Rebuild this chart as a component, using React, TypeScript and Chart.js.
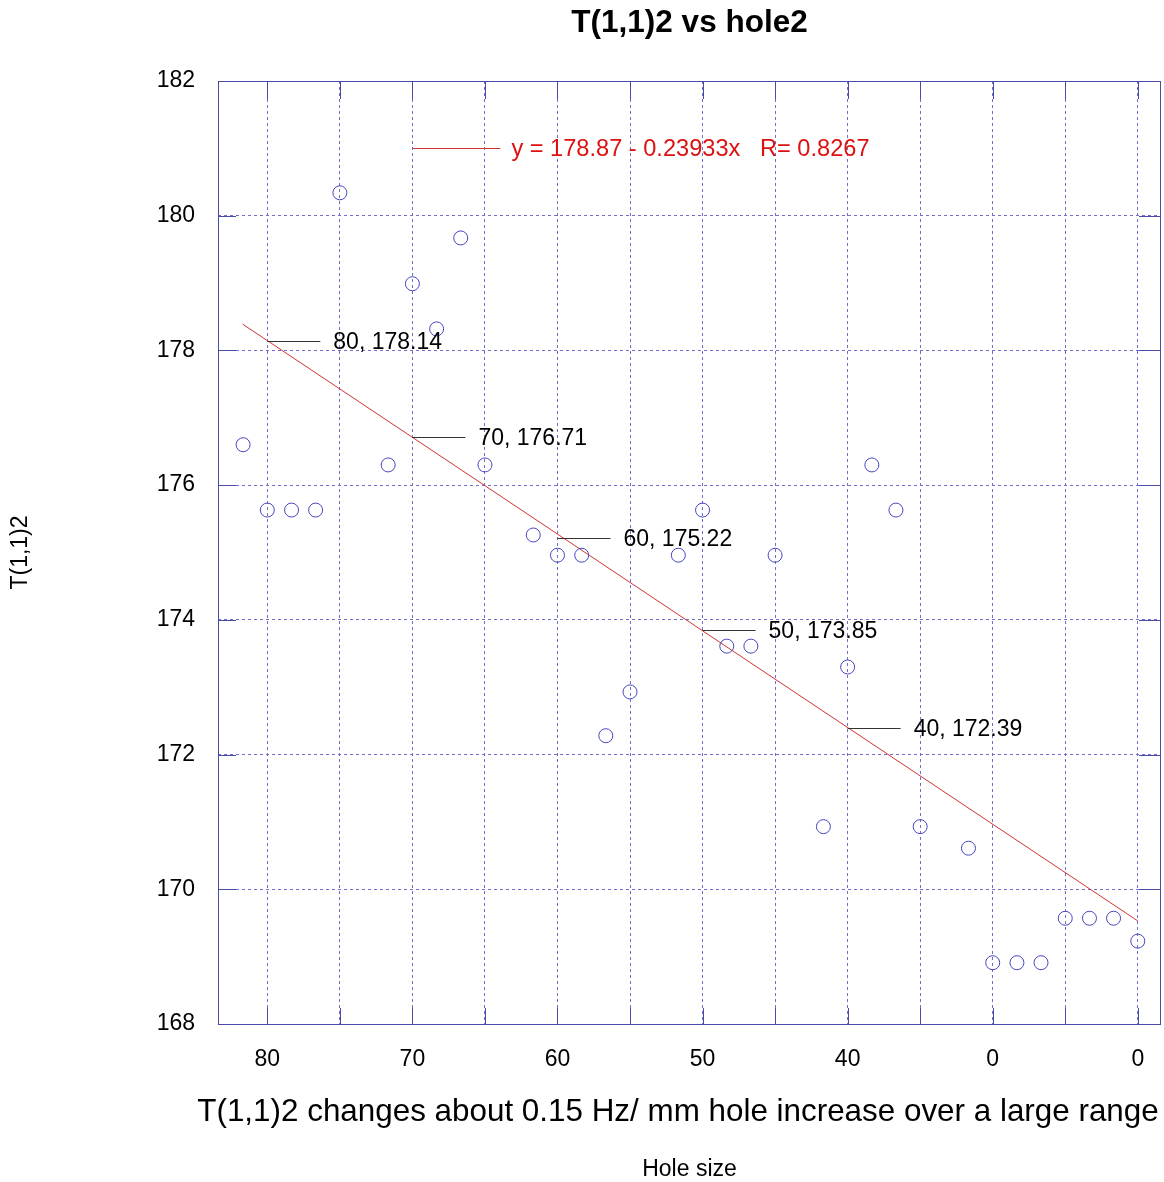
import React, { useEffect, useRef } from "react";
import { Chart, registerables } from "chart.js";

Chart.register(...registerables);

// ---- data ----
const holeSize = [
  81.67, 80, 78.33, 76.67, 75, 71.67, 70, 68.33, 66.67, 65, 61.67, 60, 58.33,
  56.67, 55, 51.67, 50, 48.33, 46.67, 45, 41.67, 40, 38.33, 36.67, 35, 31.67,
  30, 28.33, 26.67, 25, 23.33, 21.67, 20,
];
const t112 = [
  176.6, 175.63, 175.63, 175.63, 180.34, 176.3, 178.99, 178.32, 179.67, 176.3,
  175.26, 174.96, 174.96, 172.28, 172.93, 174.96, 175.63, 173.61, 173.61,
  174.96, 170.93, 173.3, 176.3, 175.63, 170.93, 170.61, 168.91, 168.91, 168.91,
  169.57, 169.57, 169.57, 169.23,
];

// regression line (end points)
const fitX = [81.7, 20];
const fitY = [178.39, 169.53];

// annotated points on the regression line
const annX = [80, 70, 60, 50, 40];
const annY = [178.14, 176.71, 175.22, 173.85, 172.39];

// x grid values, labelled tick values and the labels shown for them
const xGridValues = [20, 25, 30, 35, 40, 45, 50, 55, 60, 65, 70, 75, 80];
const xTickValues = [80, 70, 60, 50, 40, 30, 20];
const xTickLabels = ["80", "70", "60", "50", "40", "0", "0"];
const yTickValues = [168, 170, 172, 174, 176, 178, 180, 182];

const fitLabel = "y = 178.87 - 0.23933x   R= 0.8267";
const fitLabelAnchor = { x: 70, y: 181 };

const titleText = "T(1,1)2 vs hole2";
const yTitle = "T(1,1)2";
const xTitle1 = "T(1,1)2 changes about 0.15 Hz/ mm hole increase over a large range";
const xTitle2 = "Hole size";

const FONT = "'Liberation Sans', Arial, Helvetica, sans-serif";
const AXIS_COLOR = "#4a4aaa";
const GRID_COLOR = "#7070cc";
const POINT_COLOR = "#4646c0";
const FIT_COLOR = "#cc3333";
const FIT_TEXT_COLOR = "#dd1111";

const decorPlugin = {
  id: "decor",
  afterDraw(chart: any) {
    const { ctx, chartArea, scales } = chart;
    const xs = scales.x;
    const ys = scales.y;
    const { left, right, top, bottom } = chartArea;
    ctx.save();

    // box
    ctx.strokeStyle = AXIS_COLOR;
    ctx.lineWidth = 1;
    ctx.setLineDash([]);
    ctx.strokeRect(Math.round(left) + 0.5, Math.round(top) + 0.5, Math.round(right - left) - 1, Math.round(bottom - top));

    // inside tick marks
    ctx.beginPath();
    xs.ticks.forEach((t: any) => {
      const px = Math.round(xs.getPixelForValue(t.value)) + 0.5;
      ctx.moveTo(px, bottom);
      ctx.lineTo(px, bottom - 16);
      ctx.moveTo(px, top);
      ctx.lineTo(px, top + 18);
    });
    ys.ticks.forEach((t: any) => {
      const py = Math.round(ys.getPixelForValue(t.value)) + 0.5;
      ctx.moveTo(left, py);
      ctx.lineTo(left + 18, py);
      ctx.moveTo(right, py);
      ctx.lineTo(right - 22, py);
    });
    ctx.stroke();

    // annotations on the fit line
    ctx.font = `23px ${FONT}`;
    ctx.textBaseline = "middle";
    ctx.textAlign = "left";
    annX.forEach((v, i) => {
      const px = xs.getPixelForValue(v);
      const py = Math.round(ys.getPixelForValue(annY[i])) + 0.5;
      ctx.strokeStyle = "#333333";
      ctx.beginPath();
      ctx.moveTo(px, py);
      ctx.lineTo(px + 53, py);
      ctx.stroke();
      ctx.fillStyle = "#000000";
      ctx.fillText(`${v}, ${annY[i].toFixed(2)}`, px + 66, py + 1);
    });

    // fit legend
    const lx = xs.getPixelForValue(fitLabelAnchor.x);
    const ly = Math.round(ys.getPixelForValue(fitLabelAnchor.y)) + 0.5;
    ctx.strokeStyle = FIT_COLOR;
    ctx.beginPath();
    ctx.moveTo(lx, ly);
    ctx.lineTo(lx + 88, ly);
    ctx.stroke();
    ctx.fillStyle = FIT_TEXT_COLOR;
    ctx.font = `23.6px ${FONT}`;
    ctx.fillText(fitLabel, lx + 99, ly + 1);

    // titles
    ctx.fillStyle = "#000000";
    ctx.textAlign = "center";
    ctx.font = `bold 31.5px ${FONT}`;
    ctx.fillText(titleText, (left + right) / 2, 23);

    ctx.font = `31.4px ${FONT}`;
    ctx.fillText(xTitle1, 678, 1112);

    ctx.font = `23px ${FONT}`;
    ctx.fillText(xTitle2, (left + right) / 2, 1170);

    ctx.translate(21, (top + bottom) / 2);
    ctx.rotate(-Math.PI / 2);
    ctx.fillText(yTitle, 0, 0);

    ctx.restore();
  },
};

export default function App() {
  const canvasRef = useRef<HTMLCanvasElement | null>(null);

  useEffect(() => {
    if (!canvasRef.current) return;
    const points = holeSize.map((x, i) => ({ x, y: t112[i] }));
    const fit = fitX.map((x, i) => ({ x, y: fitY[i] }));
    const chart = new Chart(canvasRef.current, {
      type: "scatter",
      data: {
        datasets: [
          {
            data: points,
            pointStyle: "circle",
            pointRadius: 7,
            pointHoverRadius: 7,
            borderColor: POINT_COLOR,
            backgroundColor: "rgba(0,0,0,0)",
            borderWidth: 1,
            showLine: false,
          },
          {
            data: fit,
            showLine: true,
            borderColor: FIT_COLOR,
            borderWidth: 1,
            pointRadius: 0,
            fill: false,
          },
        ],
      },
      options: {
        responsive: false,
        animation: false,
        events: [],
        layout: { autoPadding: false, padding: { top: 81, right: 3, left: 0, bottom: 0 } },
        plugins: {
          legend: { display: false },
          tooltip: { enabled: false },
          title: { display: false },
        },
        scales: {
          x: {
            type: "linear",
            reverse: true,
            min: 18.4,
            max: 83.4,
            afterBuildTicks: (s: any) => {
              s.ticks = xGridValues.map((v) => ({ value: v }));
            },
            afterFit: (s: any) => {
              s.height = 158;
              s.paddingLeft = 0;
              s.paddingRight = 0;
            },
            ticks: {
              autoSkip: false,
              maxRotation: 0,
              minRotation: 0,
              padding: 22,
              color: "#000000",
              font: { family: FONT, size: 23 },
              callback: (value: any) => {
                const idx = xTickValues.indexOf(Number(value));
                return idx >= 0 ? xTickLabels[idx] : "";
              },
            },
            grid: { color: GRID_COLOR, lineWidth: 1, drawTicks: false },
            border: { display: false, dash: [3, 3] },
          },
          y: {
            type: "linear",
            min: 168,
            max: 182,
            afterBuildTicks: (s: any) => {
              s.ticks = yTickValues.map((v) => ({ value: v }));
            },
            afterFit: (s: any) => {
              s.width = 218;
              s.paddingTop = 0;
              s.paddingBottom = 0;
            },
            ticks: {
              padding: 23,
              color: "#000000",
              font: { family: FONT, size: 23 },
            },
            grid: { color: GRID_COLOR, lineWidth: 1, drawTicks: false },
            border: { display: false, dash: [3, 3] },
          },
        },
      },
      plugins: [decorPlugin],
    } as any);
    return () => chart.destroy();
  }, []);

  return (
    <div style={{ position: "absolute", left: 0, top: 0, width: 1164, height: 1182, background: "#ffffff" }}>
      <canvas ref={canvasRef} width={1164} height={1182} style={{ width: 1164, height: 1182, display: "block" }} />
    </div>
  );
}
